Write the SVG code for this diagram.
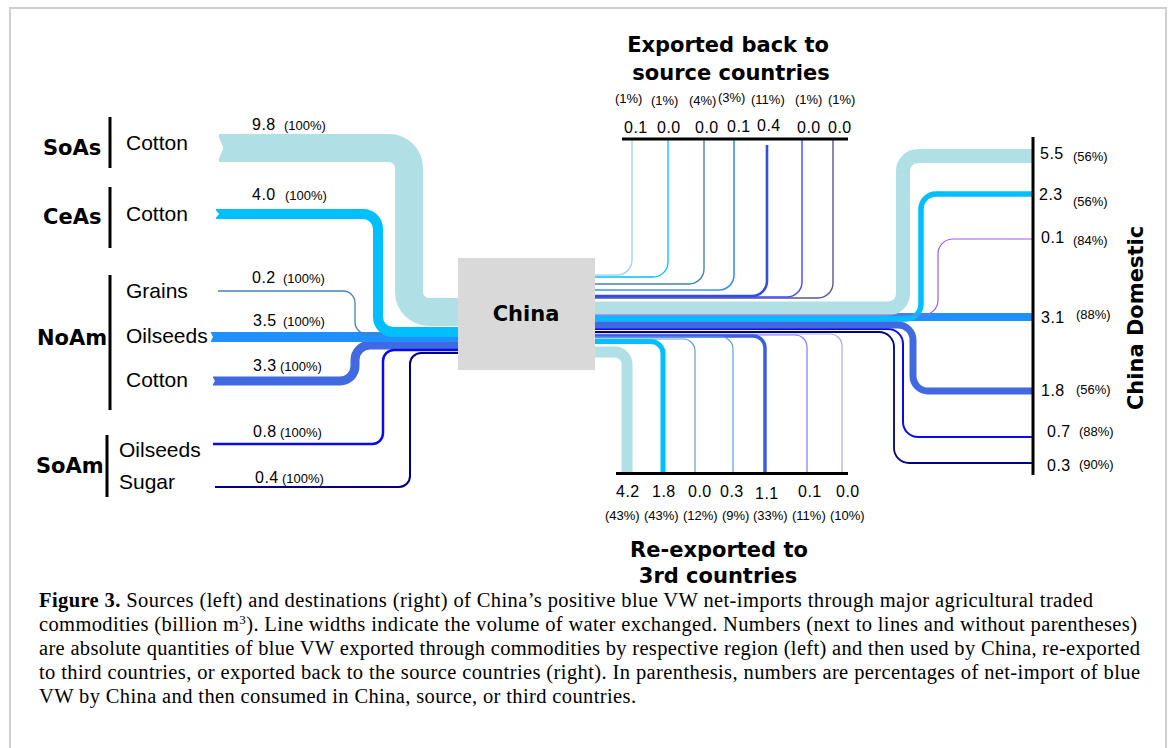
<svg xmlns="http://www.w3.org/2000/svg" width="1170" height="748" viewBox="0 0 1170 748">
<style>
.lbl{font-family:"Liberation Sans",Arial,sans-serif;font-size:21px;fill:#000}
.reg{font-family:"DejaVu Sans",sans-serif;font-weight:bold;font-size:21px;fill:#000}
.num{font-family:"Liberation Sans",Arial,sans-serif;font-size:16px;letter-spacing:0.5px;fill:#000}
.pct{font-family:"Liberation Sans",Arial,sans-serif;font-size:13px;fill:#000}
.cap{font-family:"Liberation Serif","Times New Roman",serif;font-size:20.5px;fill:#000}
.bar{stroke:#000;stroke-width:3;fill:none}
.f{fill:none;stroke-linecap:butt;stroke-linejoin:round}
</style>
<rect width="1170" height="748" fill="#fff"/>
<path d="M10,748 V8 H1166 V748" fill="none" stroke="#d0d0d0" stroke-width="2"/>

<g id="connectors">
  <!-- sources into China -->
  <path class="f" d="M213,381 H340 A15,15 0 0 0 355,366 V360 A15,15 0 0 1 370,345 H458" stroke="#4169e1" stroke-width="9"/>
  <path class="f" d="M211,337 H458" stroke="#1e90ff" stroke-width="10"/>
  <path class="f" d="M218,291 H343 A12,12 0 0 1 355,303 V322 A12,12 0 0 0 367,334 H458" stroke="#4a7fb8" stroke-width="1.3"/>
  <path class="f" d="M219,148 H389 A20,20 0 0 1 409,168 V292 A20,20 0 0 0 429,312 H458" stroke="#b0e0e6" stroke-width="28"/>
  <path class="f" d="M216,214 H363 A15,15 0 0 1 378,229 V317 A15,15 0 0 0 393,332 H458" stroke="#00bfff" stroke-width="10"/>
  <path class="f" d="M213,444 H372 A11,11 0 0 0 383,433 V361 A11,11 0 0 1 394,350 H458" stroke="#0a0af0" stroke-width="2.5"/>
  <path class="f" d="M215,487 H399 A11,11 0 0 0 410,476 V364 A11,11 0 0 1 421,353 H458" stroke="#000080" stroke-width="2"/>
  <polygon points="217,133 223.5,148 217,163" fill="#fff"/>
  <polygon points="214,208 219,214 214,220" fill="#fff"/>
  <polygon points="210,331 213,337 210,343" fill="#fff"/>
  <polygon points="212,376 215,381 212,386" fill="#fff"/>

  <!-- exported back to source countries -->
  <path class="f" d="M595,275 H617 A15,15 0 0 0 632,260 V139" stroke="#a9d9e2" stroke-width="1.5"/>
  <path class="f" d="M595,277 H653 A15,15 0 0 0 668,262 V139" stroke="#00bfff" stroke-width="1.3"/>
  <path class="f" d="M595,284 H689 A15,15 0 0 0 704,269 V139" stroke="#4682b4" stroke-width="1.4"/>
  <path class="f" d="M595,290 H719 A15,15 0 0 0 734,275 V139" stroke="#3d8fef" stroke-width="1.6"/>
  <path class="f" d="M595,298 H818 A15,15 0 0 0 833,283 V139" stroke="#55559c" stroke-width="1.4"/>
  <path class="f" d="M595,297 H787 A15,15 0 0 0 802,282 V139" stroke="#4545ff" stroke-width="1.4"/>
  <path class="f" d="M595,296 H752 A15,15 0 0 0 767,281 V145" stroke="#3050d8" stroke-width="2.6"/>

  <!-- China domestic -->
  <path class="f" d="M595,317 H1033" stroke="#1e90ff" stroke-width="8"/>
  <path class="f" d="M595,308.5 H888 A15,15 0 0 0 903,293.5 V171 A15,15 0 0 1 918,156 H1033" stroke="#b0e0e6" stroke-width="14"/>
  <path class="f" d="M595,319 H906 A15,15 0 0 0 921,304 V209 A15,15 0 0 1 936,194 H1033" stroke="#00bfff" stroke-width="5.5"/>
  <path class="f" d="M595,315 H923 A15,15 0 0 0 938,300 V254 A15,15 0 0 1 953,239 H1033" stroke="#9b5de5" stroke-width="1.2"/>
  <path class="f" d="M595,332 H879 A15,15 0 0 1 894,347 V448 A15,15 0 0 0 909,463 H1033" stroke="#000080" stroke-width="1.8"/>
  <path class="f" d="M595,329 H888 A15,15 0 0 1 903,344 V422 A15,15 0 0 0 918,437 H1033" stroke="#0a0af0" stroke-width="2"/>
  <path class="f" d="M595,325 H898 A15,15 0 0 1 913,340 V376 A15,15 0 0 0 928,391 H1033" stroke="#4169e1" stroke-width="7"/>

  <!-- re-exported to 3rd countries -->
  <path class="f" d="M595,334 H830 A12,12 0 0 1 842,346 V474" stroke="#aaaade" stroke-width="1.2"/>
  <path class="f" d="M595,335 H795 A12,12 0 0 1 807,347 V474" stroke="#7c7cff" stroke-width="1.2"/>
  <path class="f" d="M595,336 H753 A12,12 0 0 1 765,348 V474" stroke="#3a5fd9" stroke-width="3.5"/>
  <path class="f" d="M595,337 H721 A12,12 0 0 1 733,349 V474" stroke="#5aa0f5" stroke-width="1.2"/>
  <path class="f" d="M595,339 H683 A12,12 0 0 1 695,351 V474" stroke="#6a9bc8" stroke-width="1.2"/>
  <path class="f" d="M595,341.5 H651 A12,12 0 0 1 663,353.5 V474" stroke="#00bfff" stroke-width="5"/>
  <path class="f" d="M595,352 H615 A12,12 0 0 1 627,364 V474" stroke="#b0e0e6" stroke-width="11"/>
</g>

<g id="china">
  <rect x="458" y="258" width="137" height="112" fill="#d9d9d9"/>
  <text class="reg" x="526" y="321" text-anchor="middle">China</text>
</g>

<g id="soas">
  <path class="bar" d="M110,117 V168"/>
  <text class="reg" x="43" y="155">SoAs</text>
  <text class="lbl" x="126" y="150">Cotton</text>
  <text class="num" x="252" y="130">9.8</text><text class="pct" x="284" y="130">(100%)</text>
</g>
<g id="ceas">
  <path class="bar" d="M110,187 V248"/>
  <text class="reg" x="43" y="224">CeAs</text>
  <text class="lbl" x="126" y="221">Cotton</text>
  <text class="num" x="252" y="200">4.0</text><text class="pct" x="285" y="200">(100%)</text>
</g>
<g id="noam">
  <path class="bar" d="M110,275 V410"/>
  <text class="reg" x="37" y="345">NoAm</text>
  <text class="lbl" x="126" y="298">Grains</text>
  <text class="lbl" x="126" y="343">Oilseeds</text>
  <text class="lbl" x="126" y="387">Cotton</text>
  <text class="num" x="252" y="283">0.2</text><text class="pct" x="283" y="283">(100%)</text>
  <text class="num" x="253" y="326">3.5</text><text class="pct" x="283" y="326">(100%)</text>
  <text class="num" x="253" y="371">3.3</text><text class="pct" x="280" y="371">(100%)</text>
</g>
<g id="soam">
  <path class="bar" d="M107,435 V497"/>
  <text class="reg" x="36" y="473">SoAm</text>
  <text class="lbl" x="119" y="457">Oilseeds</text>
  <text class="lbl" x="119" y="489">Sugar</text>
  <text class="num" x="253" y="437">0.8</text><text class="pct" x="280" y="437">(100%)</text>
  <text class="num" x="255" y="483">0.4</text><text class="pct" x="282" y="483">(100%)</text>
</g>

<g id="exported-back">
  <text class="reg" x="728" y="52" text-anchor="middle">Exported back to</text>
  <text class="reg" x="731" y="80" text-anchor="middle">source countries</text>
  <path class="bar" d="M622,139 H848"/>
  <text class="pct" x="615" y="103">(1%)</text>
  <text class="pct" x="651" y="105">(1%)</text>
  <text class="pct" x="689" y="105">(4%)</text>
  <text class="pct" x="718" y="102">(3%)</text>
  <text class="pct" x="751" y="104">(11%)</text>
  <text class="pct" x="795" y="104">(1%)</text>
  <text class="pct" x="828" y="104">(1%)</text>
  <text class="num" x="624" y="133">0.1</text>
  <text class="num" x="657" y="133">0.0</text>
  <text class="num" x="695" y="133">0.0</text>
  <text class="num" x="727" y="132">0.1</text>
  <text class="num" x="757" y="131">0.4</text>
  <text class="num" x="797" y="133">0.0</text>
  <text class="num" x="828" y="133">0.0</text>
</g>

<g id="re-exported">
  <path class="bar" d="M616,473.5 H848"/>
  <text class="num" x="616" y="497">4.2</text>
  <text class="num" x="652" y="497">1.8</text>
  <text class="num" x="688" y="497">0.0</text>
  <text class="num" x="720" y="497">0.3</text>
  <text class="num" x="755" y="499">1.1</text>
  <text class="num" x="798" y="497">0.1</text>
  <text class="num" x="836" y="497">0.0</text>
  <text class="pct" x="605" y="520">(43%)</text>
  <text class="pct" x="644" y="520">(43%)</text>
  <text class="pct" x="683" y="520">(12%)</text>
  <text class="pct" x="722" y="520">(9%)</text>
  <text class="pct" x="753" y="520">(33%)</text>
  <text class="pct" x="792" y="520">(11%)</text>
  <text class="pct" x="830" y="520">(10%)</text>
  <text class="reg" x="719" y="557" text-anchor="middle" font-size="20">Re-exported to</text>
  <text class="reg" x="718" y="583" text-anchor="middle" font-size="20">3rd countries</text>
</g>

<g id="china-domestic">
  <path class="bar" d="M1033,137 V475"/>
  <text class="reg" transform="translate(1143,318) rotate(-90)" text-anchor="middle" font-size="20">China Domestic</text>
  <text class="num" x="1040" y="159">5.5</text><text class="pct" x="1073" y="161">(56%)</text>
  <text class="num" x="1039" y="200">2.3</text><text class="pct" x="1073" y="206">(56%)</text>
  <text class="num" x="1041" y="243">0.1</text><text class="pct" x="1073" y="245">(84%)</text>
  <text class="num" x="1041" y="323">3.1</text><text class="pct" x="1076" y="319">(88%)</text>
  <text class="num" x="1041" y="396">1.8</text><text class="pct" x="1076" y="394">(56%)</text>
  <text class="num" x="1047" y="437">0.7</text><text class="pct" x="1079" y="436">(88%)</text>
  <text class="num" x="1047" y="471">0.3</text><text class="pct" x="1079" y="469">(90%)</text>
</g>

<g id="caption">
  <text class="cap" x="39" y="607" textLength="1054" lengthAdjust="spacing"><tspan font-weight="bold">Figure 3.</tspan> Sources (left) and destinations (right) of China’s positive blue VW net-imports through major agricultural traded</text>
  <text class="cap" x="39" y="631" textLength="1098" lengthAdjust="spacing">commodities (billion m<tspan font-size="13" dy="-7">3</tspan><tspan dy="7">). Line widths indicate the volume of water exchanged. Numbers (next to lines and without parentheses)</tspan></text>
  <text class="cap" x="39" y="655" textLength="1101" lengthAdjust="spacing">are absolute quantities of blue VW exported through commodities by respective region (left) and then used by China, re-exported</text>
  <text class="cap" x="39" y="679" textLength="1101" lengthAdjust="spacing">to third countries, or exported back to the source countries (right). In parenthesis, numbers are percentages of net-import of blue</text>
  <text class="cap" x="39" y="703" textLength="597" lengthAdjust="spacing">VW by China and then consumed in China, source, or third countries.</text>
</g>
</svg>
